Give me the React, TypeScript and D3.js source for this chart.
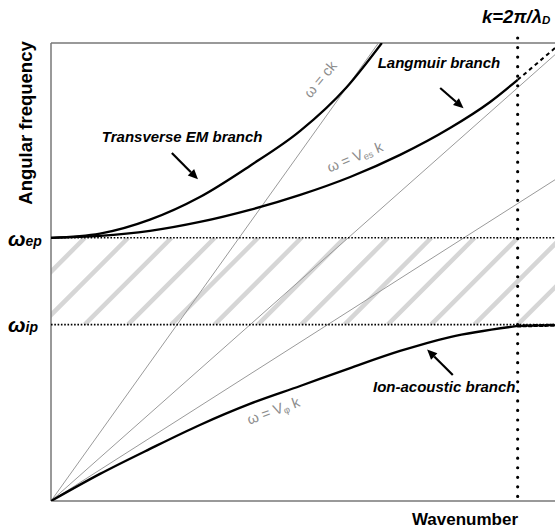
import React from 'react';
import * as d3 from 'd3';

const W = 555;
const H = 532;
const M = { left: 51, right: 0, top: 43, bottom: 31 };

// wavenumber in units of 2π/λD, frequency in units of ωep
const kMax = 1.08;
const wMax = 1.74;
const omegaEp = 1.0;
const omegaIp = 0.67;
const kDebye = 1.0;

// Transverse EM branch
const emK = [0, 0.105, 0.212, 0.319, 0.426, 0.534, 0.634, 0.709];
const emW = [1.0, 1.016, 1.069, 1.155, 1.273, 1.406, 1.573, 1.74];

// Langmuir branch (solid up to k = 2π/λD, dashed beyond)
const langK = [0, 0.105, 0.212, 0.319, 0.426, 0.534, 0.641, 0.748, 0.855, 0.941, 1.0];
const langW = [1.0, 1.007, 1.026, 1.06, 1.106, 1.163, 1.231, 1.315, 1.417, 1.516, 1.6];
const langExtK = [1.0, 1.08];
const langExtW = [1.6, 1.721];

// Ion-acoustic branch
const ionK = [0, 0.105, 0.212, 0.319, 0.426, 0.534, 0.641, 0.748, 0.855, 1.0];
const ionW = [0, 0.103, 0.198, 0.289, 0.369, 0.437, 0.505, 0.57, 0.623, 0.665];
const ionExtK = [1.0, 1.08];
const ionExtW = [0.665, 0.668];

// straight lines through the origin, ω = v·k
const phaseNames = ['ck', 'Ves', 'Vphi'];
const phaseSpeeds = [2.48, 1.57, 1.13];

const FONT = '"Liberation Sans", Arial, Helvetica, sans-serif';

export default function App() {
  const x = d3.scaleLinear().domain([0, kMax]).range([M.left, W - M.right]);
  const y = d3.scaleLinear().domain([0, wMax]).range([H - M.bottom, M.top]);

  const line = d3
    .line<[number, number]>()
    .x((d) => x(d[0]))
    .y((d) => y(d[1]))
    .curve(d3.curveMonotoneX);
  const straight = d3
    .line<[number, number]>()
    .x((d) => x(d[0]))
    .y((d) => y(d[1]));

  const zip = (a: number[], b: number[]) => a.map((v, i) => [v, b[i]] as [number, number]);

  const x0 = x(0);
  const x1 = x(kMax);
  const yTop = y(wMax);
  const yBot = y(0);
  const yEp = y(omegaEp);
  const yIp = y(omegaIp);
  const xD = x(kDebye);

  // 45° hatching of the gap between ωip and ωep
  const bandH = yIp - yEp;
  const hatchStep = 43.3;
  const hatchStarts = d3.range(xD - hatchStep * 14, x1 + hatchStep, hatchStep);

  const arrow = (k0: number, w0: number, k1: number, w1: number, key: string) => {
    const ax = x(k0), ay = y(w0), bx = x(k1), by = y(w1);
    const ang = Math.atan2(by - ay, bx - ax);
    const L = 10, Wd = 4.5;
    const px = bx - L * Math.cos(ang);
    const py = by - L * Math.sin(ang);
    const nx = -Math.sin(ang) * Wd, ny = Math.cos(ang) * Wd;
    return (
      <g key={key}>
        <line x1={ax} y1={ay} x2={px} y2={py} stroke="#000" strokeWidth={2.2} />
        <path d={`M${bx},${by}L${px + nx},${py + ny}L${px - nx},${py - ny}Z`} fill="#000" />
      </g>
    );
  };

  const grayLabel = (k: number, w: number, rot: number, content: React.ReactNode, key: string) => (
    <text
      key={key}
      transform={`translate(${x(k)},${y(w)}) rotate(${rot})`}
      textAnchor="middle"
      fontFamily={FONT}
      fontSize={14.5}
      fill="#8c8c8c"
    >
      {content}
    </text>
  );

  return (
    <svg
      width={W}
      height={H}
      style={{ position: 'absolute', left: 0, top: 0, background: '#fff' }}
      fontFamily={FONT}
    >
      <defs>
        <clipPath id="plot">
          <rect x={x0} y={yTop} width={x1 - x0} height={yBot - yTop} />
        </clipPath>
        <clipPath id="band">
          <rect x={x0} y={yEp} width={x1 - x0} height={bandH} />
        </clipPath>
      </defs>

      {/* hatched gap */}
      <g clipPath="url(#band)">
        {hatchStarts.map((s, i) => (
          <line
            key={i}
            x1={s}
            y1={yIp}
            x2={s + bandH}
            y2={yEp}
            stroke="#d6d6d6"
            strokeWidth={4.5}
          />
        ))}
      </g>

      {/* frame */}
      <g stroke="#777" strokeWidth={1.5} fill="none">
        <line x1={x0} y1={yTop} x2={x0} y2={yBot} />
        <line x1={x0} y1={yTop} x2={x1} y2={yTop} />
        <line x1={x0} y1={yBot} x2={x1} y2={yBot} />
      </g>

      {/* phase-velocity lines */}
      <g clipPath="url(#plot)">
        {phaseSpeeds.map((v, i) => {
          const kEnd = Math.min(kMax, wMax / v) + 0.02;
          return (
            <path
              key={phaseNames[i]}
              d={straight([[0, 0], [kEnd, v * kEnd]]) as string}
              stroke="#9a9a9a"
              strokeWidth={1}
              fill="none"
            />
          );
        })}
      </g>

      {/* ωep and ωip levels */}
      <g stroke="#000" strokeWidth={1.6} strokeDasharray="1.6 1.7">
        <line x1={x0} y1={yEp} x2={x1} y2={yEp} />
        <line x1={x0} y1={yIp} x2={x1} y2={yIp} />
      </g>

      {/* k = 2π/λD */}
      <line
        x1={xD}
        y1={38}
        x2={xD}
        y2={yBot - 2}
        stroke="#000"
        strokeWidth={3.2}
        strokeLinecap="round"
        strokeDasharray="0 9.55"
      />

      {/* dispersion branches */}
      <g clipPath="url(#plot)" fill="none" stroke="#000">
        <path d={line(zip(emK, emW)) as string} strokeWidth={2.3} />
        <path d={line(zip(langK, langW)) as string} strokeWidth={2.3} />
        <path
          d={straight(zip(langExtK, langExtW)) as string}
          strokeWidth={2}
          strokeDasharray="4 3.5"
        />
        <path d={line(zip(ionK, ionW)) as string} strokeWidth={2.3} />
        <path
          d={straight(zip(ionExtK, ionExtW)) as string}
          strokeWidth={3}
          strokeDasharray="3 2.5"
          strokeLinecap="round"
        />
      </g>

      {/* line labels */}
      {grayLabel(0.585, 1.59, -50, 'ω = ck', 'lck')}
      {grayLabel(
        0.655,
        1.29,
        -22,
        <>
          ω = V<tspan fontSize={9.5} dy={2}>es</tspan>
          <tspan dy={-2}> k</tspan>
        </>,
        'les'
      )}
      {grayLabel(
        0.48,
        0.325,
        -20,
        <>
          ω = V<tspan fontSize={9.5} dy={2}>φ</tspan>
          <tspan dy={-2}> k</tspan>
        </>,
        'lphi'
      )}

      {/* branch annotations */}
      <g fontFamily={FONT} fontSize={15} fontStyle="italic" fontWeight={700} fill="#000">
        <text x={x(0.109)} y={y(1.365)}>Transverse EM branch</text>
        <text x={x(0.7)} y={y(1.645)}>Langmuir branch</text>
        <text x={x(0.69)} y={y(0.414)}>Ion-acoustic branch</text>
      </g>
      {arrow(0.259, 1.322, 0.315, 1.222, 'aem')}
      {arrow(0.834, 1.569, 0.884, 1.492, 'alang')}
      {arrow(0.861, 0.479, 0.806, 0.576, 'aion')}

      {/* level labels */}
      <g fontFamily={FONT} fontStyle="italic" fontWeight={700} fill="#000">
        <text x={8} y={yEp + 8}>
          <tspan fontSize={21}>ω</tspan>
          <tspan fontSize={14}>ep</tspan>
        </text>
        <text x={8} y={yIp + 7}>
          <tspan fontSize={21}>ω</tspan>
          <tspan fontSize={14}>ip</tspan>
        </text>
      </g>

      <text x={482} y={23} fontFamily={FONT} fontSize={18.5} fontStyle="italic" fontWeight={700}>
        k=2π/λ<tspan fontSize={11.5} dy={1}>D</tspan>
      </text>

      {/* axis titles */}
      <text
        x={465}
        y={525}
        textAnchor="middle"
        fontFamily={FONT}
        fontSize={17}
        fontWeight={700}
      >
        Wavenumber
      </text>
      <text
        transform={`translate(32,123) rotate(-90)`}
        textAnchor="middle"
        fontFamily={FONT}
        fontSize={18.5}
        fontWeight={700}
      >
        Angular frequency
      </text>
    </svg>
  );
}
